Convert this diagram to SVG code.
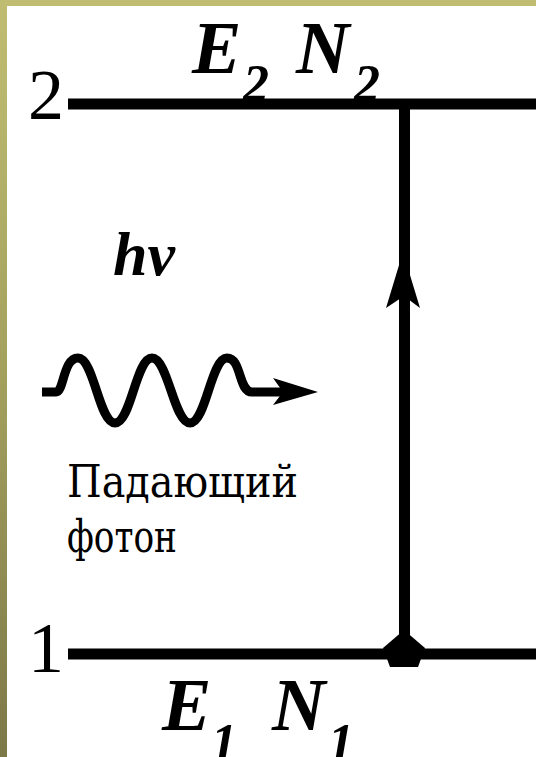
<svg xmlns="http://www.w3.org/2000/svg" width="536" height="757" viewBox="0 0 536 757">
<defs>
<linearGradient id="side" x1="0" y1="0" x2="0" y2="1">
<stop offset="0" stop-color="#c0bd72"/>
<stop offset="0.5" stop-color="#a3a05e"/>
<stop offset="1" stop-color="#7d7848"/>
</linearGradient>
<style>
.lvl{stroke:#000;stroke-width:11;fill:none}
.num{font-family:"Liberation Serif",serif;font-size:72px;fill:#000}
.sym{font-family:"Liberation Serif",serif;font-weight:bold;font-style:italic;fill:#000}
.lab{font-family:"DejaVu Serif Condensed","DejaVu Serif",serif;font-size:44px;fill:#000}
</style>
</defs>
<rect x="0" y="0" width="536" height="757" fill="#fff"/>
<rect x="0" y="0" width="536" height="6" fill="#c0bd72"/>
<rect x="0" y="0" width="7" height="757" fill="url(#side)"/>
<g id="level2">
<line class="lvl" x1="68" y1="104" x2="536" y2="104"/>
<text class="num" x="28" y="119">2</text>
<text class="sym" x="192" y="73" font-size="74">E</text>
<text class="sym" x="243" y="101" font-size="52">2</text>
<text class="sym" x="296" y="73" font-size="74">N</text>
<text class="sym" x="354" y="101" font-size="52">2</text>
</g>
<g id="level1">
<line class="lvl" x1="68" y1="654" x2="536" y2="654"/>
<text class="num" x="28" y="672">1</text>
<text class="sym" x="162" y="730" font-size="74">E</text>
<text class="sym" x="211" y="760" font-size="52">1</text>
<text class="sym" x="272" y="730" font-size="74">N</text>
<text class="sym" x="328" y="760" font-size="52">1</text>
</g>
<g id="photon">
<text class="sym" x="113" y="275" font-size="62">h<tspan font-family="'Liberation Serif','DejaVu Serif',serif">ν</tspan></text>
<path d="M42,392 H56 C64,392 63,358 78,358 C94,358 99,423 115,423 C131,423 136,358 152,358 C168,358 174,423 190,423 C206,423 211,358 227,358 C242,358 238,392 252,392 H285" fill="none" stroke="#000" stroke-width="9" stroke-linejoin="round"/>
<polygon points="318,392 273,378 283,392 273,405" fill="#000"/>
<text class="lab" x="67" y="497" textLength="231" lengthAdjust="spacingAndGlyphs">Падающий</text>
<text class="lab" x="67" y="552" textLength="110" lengthAdjust="spacingAndGlyphs">фотон</text>
</g>
<g id="connectors">
<line x1="404.5" y1="104" x2="404.5" y2="650" stroke="#000" stroke-width="11"/>
<polygon points="403,252 420,308 404,296 386,308" fill="#000"/>
<polygon points="404,630 425,648 418,667 390,667 383,648" fill="#000"/>
</g>
</svg>
